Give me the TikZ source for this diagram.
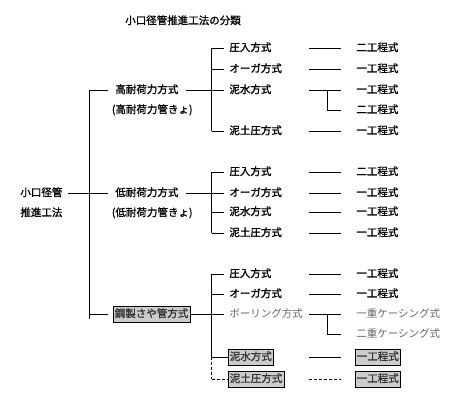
\documentclass[tikz,border=0pt]{standalone}
\usepackage{fontspec}
\setmainfont{Noto Sans CJK JP}[FakeBold=1.2]
\newfontfamily\thinjp{Noto Sans CJK JP}
\begin{document}
\begin{tikzpicture}[x=1pt,y=-1pt,line width=0.8pt,
  txt/.style={font=\fontsize{10.5}{12}\selectfont,inner xsep=5pt,inner ysep=2.75pt,
    text height=8.5pt,text depth=2pt,anchor=west},
  grpbox/.style={txt,fill=black!20,draw=black,line width=0.6pt,inner xsep=1.5pt,text=black!80},
  dimtxt/.style={txt,font=\thinjp\fontsize{10.5}{12}\selectfont,text=black!60},
  dashline/.style={dash pattern=on 3pt off 2pt}]
\useasboundingbox (0,0) rectangle (458,410);

  %% columns
  \coordinate (cj) at (211.5,0);
  \coordinate (ca) at (309,0);
  \coordinate (cm) at (327,0);
  \coordinate (cb) at (341,0);

  %% title and root
  \node[txt,anchor=center] (title) at (183,21) {小口径管推進工法の分類};
  \node[txt] (root) at (15,193) {小口径管};
  \node[txt] (root2) at (15,213) {推進工法};

  %% level 1
  \node[txt,inner xsep=7pt] (hi) at (108,90) {高耐荷力方式};
  \node[txt] (hi2) at (106.5,110) {(高耐荷力管きょ)};
  \node[txt,inner xsep=7pt] (lo) at (108,193) {低耐荷力方式};
  \node[txt] (lo2) at (106.5,213) {(低耐荷力管きょ)};
  \node[grpbox] (st) at (113,314) {鋼製さや管方式};

  %% level 2, high load
  \node[txt] (h1) at (224,48) {圧入方式};
  \node[txt] (h2) at (224,69) {オーガ方式};
  \node[txt] (h3) at (224,90) {泥水方式};
  \node[txt] (h4) at (224,131) {泥土圧方式};
  \node[txt] (hr1) at (351,48) {二工程式};
  \node[txt] (hr2) at (351,69) {一工程式};
  \node[txt] (hr3) at (351,90) {一工程式};
  \node[txt] (hr4) at (351,110) {二工程式};
  \node[txt] (hr5) at (351,131) {一工程式};

  %% level 2, low load
  \node[txt] (l1) at (224,172) {圧入方式};
  \node[txt] (l2) at (224,193) {オーガ方式};
  \node[txt] (l3) at (224,212) {泥水方式};
  \node[txt] (l4) at (224,233) {泥土圧方式};
  \node[txt] (lr1) at (351,172) {二工程式};
  \node[txt] (lr2) at (351,193) {一工程式};
  \node[txt] (lr3) at (351,212) {一工程式};
  \node[txt] (lr4) at (351,233) {一工程式};

  %% level 2, steel casing
  \node[txt] (s1) at (224,274) {圧入方式};
  \node[txt] (s2) at (224,294) {オーガ方式};
  \node[dimtxt] (s3) at (224,314) {ボーリング方式};
  \node[grpbox] (s5) at (228,357) {泥水方式};
  \node[grpbox] (s6) at (228,379) {泥土圧方式};
  \node[txt] (sr1) at (351,274) {一工程式};
  \node[txt] (sr2) at (351,294) {一工程式};
  \node[dimtxt] (sr3) at (351,314) {一重ケーシング式};
  \node[dimtxt] (sr4) at (351,334) {二重ケーシング式};
  \node[grpbox] (sr5) at (355,357) {一工程式};
  \node[grpbox] (sr6) at (355,379) {一工程式};

  %% trunk
  \draw (root.east) -- (lo.west);
  \draw (89,90) coordinate (trunkTop) -- (89,319) coordinate (trunkBot);
  \draw (trunkTop) -- (hi.west);
  \draw (trunkTop |- st) -- ([xshift=-5pt]st.west);

  %% junctions
  \draw (hi.east) -- (hi -| cj);
  \draw (lo.east) -- (lo -| cj);
  \draw (st.east) -- (st -| cj);
  \draw (h1 -| cj) -- (h4 -| cj);
  \draw (l1 -| cj) -- (l4 -| cj);
  \draw (s1 -| cj) -- (s5 -| cj);
  \draw[dashline] (s5 -| cj) -- (s6 -| cj);
  \foreach \n in {h1,h2,h3,h4,l1,l2,l3,l4,s1,s2,s3,s5}
    \draw (\n -| cj) -- (\n.west);
  \draw[dashline] (s6 -| cj) -- (s6.west);

  %% results
  \foreach \a/\r in {h1/hr1,h2/hr2,h3/hr3,h4/hr5,l1/lr1,l2/lr2,l3/lr3,l4/lr4,s1/sr1,s2/sr2,s3/sr3,s5/sr5}
    \draw (\a -| ca) -- (\r -| cb);
  \draw[dashline] (s6 -| ca) -- (sr6 -| cb);
  \draw (h3 -| cm) |- (hr4 -| cb);
  \draw (s3 -| cm) |- (sr4 -| cb);

\end{tikzpicture}
\end{document}
